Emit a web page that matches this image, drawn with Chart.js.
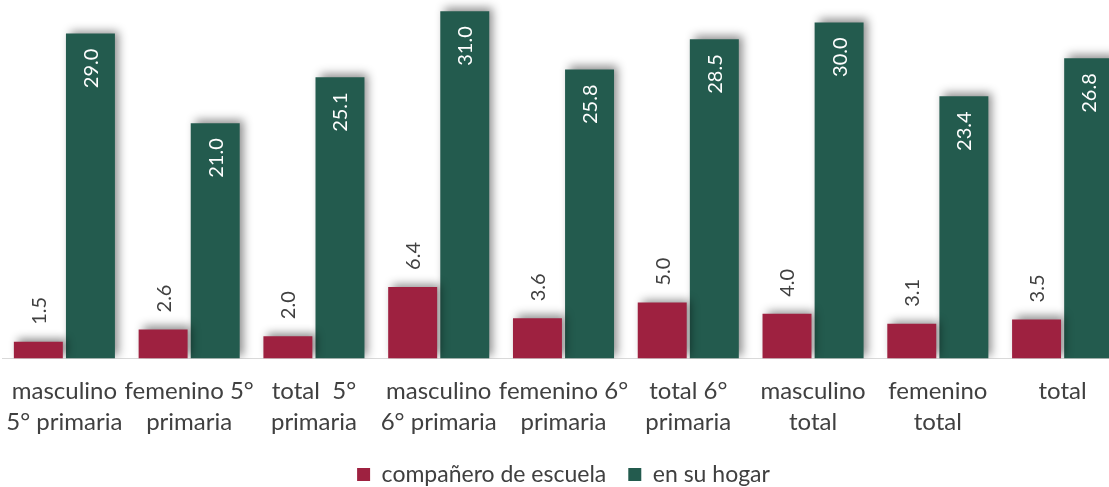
<!DOCTYPE html>
<html>
<head>
<meta charset="utf-8">
<script src="https://cdn.jsdelivr.net/npm/chart.js@4/dist/chart.umd.min.js"></script>
<style>
  html, body { margin: 0; padding: 0; background: #fff; overflow: hidden; }
  #wrap { width: 1123px; height: 496px; margin-left: 2px; }
</style>
</head>
<body>
<div id="wrap"><canvas id="myChart"></canvas></div>
<script>
var categories = [
  ['masculino', '5° primaria'],
  ['femenino 5°', 'primaria'],
  ['total  5°', 'primaria'],
  ['masculino', '6° primaria'],
  ['femenino 6°', 'primaria'],
  ['total 6°', 'primaria'],
  ['masculino', 'total'],
  ['femenino', 'total'],
  'total'
];
var companero = [1.5, 2.6, 2.0, 6.4, 3.6, 5.0, 4.0, 3.1, 3.5];
var hogar = [29.0, 21.0, 25.1, 31.0, 25.8, 28.5, 30.0, 23.4, 26.8];
var seriesNames = ['compañero de escuela', 'en su hogar'];

var RED = '#9e2140';
var GREEN = '#235b4e';
var TEXT = '#404040';
var FONT = 'Lato';

//shadow under the bars
var shadowPlugin = {
  id: 'barShadow',
  beforeDatasetsDraw: function(chart) {
    var c = chart.ctx;
    c.save();
    c.shadowColor = 'rgba(0,0,0,0.45)';
    c.shadowBlur = 9;
    c.shadowOffsetX = 4;
    c.shadowOffsetY = -3;
  },
  afterDatasetsDraw: function(chart) {
    chart.ctx.restore();
  }
};

//vertical value labels
var labelPlugin = {
  id: 'valueLabels',
  afterDatasetsDraw: function(chart) {
    var c = chart.ctx;
    chart.data.datasets.forEach(function(ds, i) {
      var meta = chart.getDatasetMeta(i);
      meta.data.forEach(function(bar, j) {
        c.save();
        c.translate(bar.x, bar.y);
        c.rotate(-Math.PI / 2);
        c.font = '20px ' + FONT;
        c.textBaseline = 'middle';
        var txt = ds.data[j].toFixed(1);
        if (i === 0) {
          c.fillStyle = TEXT;
          c.textAlign = 'left';
          c.fillText(txt, 17, 1);
        } else {
          c.fillStyle = '#ffffff';
          c.textAlign = 'right';
          c.fillText(txt, -15, 1);
        }
        c.restore();
      });
    });
  }
};

var ctx = document.getElementById('myChart').getContext('2d');
var myChart = new Chart(ctx, {
  type: 'bar',
  data: {
    labels: categories,
    datasets: [{
      label: seriesNames[0],
      data: companero,
      backgroundColor: RED,
      categoryPercentage: 0.835,
      barPercentage: 0.94
    }, {
      label: seriesNames[1],
      data: hogar,
      backgroundColor: GREEN,
      categoryPercentage: 0.835,
      barPercentage: 0.94
    }]
  },
  options: {
    responsive: true,
    maintainAspectRatio: false,
    animation: false,
    layout: { padding: 0 },
    scales: {
      x: {
        grid: {
          display: true,
          drawOnChartArea: false,
          drawTicks: true,
          tickLength: 14,
          tickColor: 'rgba(0,0,0,0)'
        },
        border: { display: true, color: '#d9d9d9', width: 1 },
        ticks: {
          color: TEXT,
          font: { family: FONT, size: 24, lineHeight: 1.3 },
          padding: 3,
          maxRotation: 0,
          autoSkip: false
        }
      },
      y: {
        display: false,
        min: 0,
        max: 32
      }
    },
    plugins: {
      legend: {
        position: 'bottom',
        labels: {
          color: TEXT,
          font: { family: FONT, size: 23 },
          boxWidth: 13,
          boxHeight: 13,
          padding: 22
        }
      },
      tooltip: { enabled: false }
    }
  },
  plugins: [shadowPlugin, labelPlugin]
});
</script>
</body>
</html>
